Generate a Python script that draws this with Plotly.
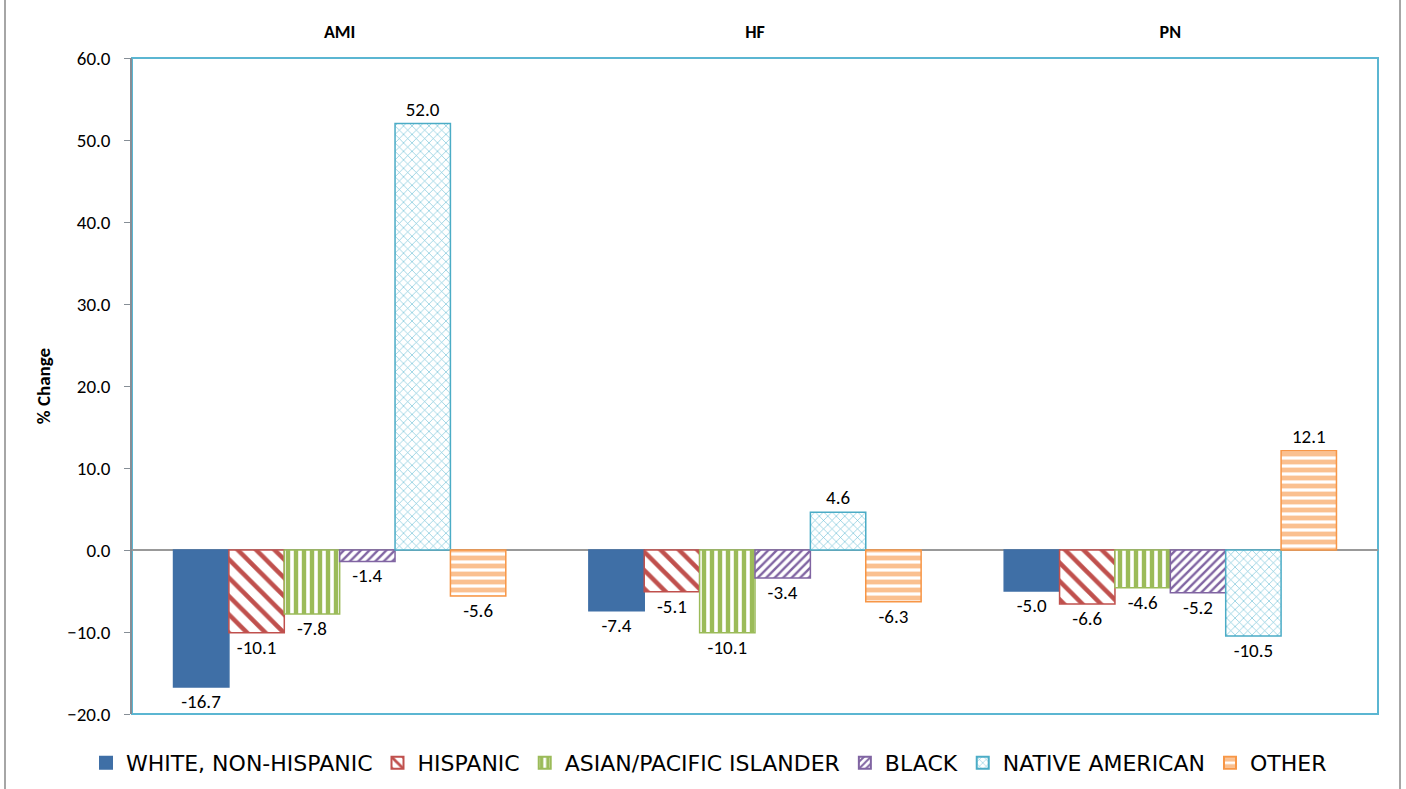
import plotly.graph_objects as go

categories = ["AMI", "HF", "PN"]
series_names = ["WHITE, NON-HISPANIC", "HISPANIC", "ASIAN/PACIFIC ISLANDER",
                "BLACK", "NATIVE AMERICAN", "OTHER"]
white = [-16.7, -7.4, -5.0]
hispanic = [-10.1, -5.1, -6.6]
asian = [-7.8, -10.1, -4.6]
black = [-1.4, -3.4, -5.2]
native = [52.0, 4.6, -10.5]
other = [-5.6, -6.3, 12.1]
y_ticks = [-20, -10, 0, 10, 20, 30, 40, 50, 60]

FONT = "Carlito, Lato, 'Liberation Sans', sans-serif"
LEG_FONT = "'DejaVu Sans', sans-serif"

styles = [
    dict(color="#3F6FA6", line="#3F6FA6", pattern=None),
    dict(color="white", line="#C0504D",
         pattern=dict(shape="\\", fgcolor="#C0504D", bgcolor="white", size=13, solidity=0.35, fillmode="replace")),
    dict(color="white", line="#9BBB59",
         pattern=dict(shape="|", fgcolor="#9BBB59", bgcolor="white", size=8, solidity=0.55, fillmode="replace")),
    dict(color="white", line="#8064A2",
         pattern=dict(shape="/", fgcolor="#8064A2", bgcolor="white", size=6, solidity=0.4, fillmode="replace")),
    dict(color="white", line="#4BACC6",
         pattern=dict(shape="x", fgcolor="#6EC0D6", bgcolor="white", size=6, solidity=0.2, fillmode="replace")),
    dict(color="white", line="#F79646",
         pattern=dict(shape="-", fgcolor="#FAC090", bgcolor="white", size=8, solidity=0.6, fillmode="replace")),
]
values = [white, hispanic, asian, black, native, other]

fig = go.Figure()
for name, vals, st in zip(series_names, values, styles):
    marker = dict(color=st["color"], line=dict(color=st["line"], width=1.5))
    if st["pattern"] is not None:
        marker["pattern"] = st["pattern"]
    fig.add_trace(go.Bar(
        x=categories, y=vals, name=name, marker=marker,
        texttemplate="%{y:.1f}", textposition="outside",
        textfont=dict(family=FONT, size=19, color="black"),
        cliponaxis=False,
    ))

W, H = 1406, 789
L, R, T, B = 132, 28, 58, 75
pw, ph = W - L - R, H - T - B

fig.update_layout(
    width=W, height=H,
    margin=dict(l=L, r=R, t=T, b=B, autoexpand=False),
    paper_bgcolor="white", plot_bgcolor="white",
    barmode="group", bargap=0.2, bargroupgap=0,
    font=dict(family=FONT, size=19, color="black"),
    showlegend=True,
    legend=dict(orientation="h", x=(709 - L) / pw, xanchor="center",
                yref="container", y=1 - 763 / H, yanchor="middle",
                font=dict(family=LEG_FONT, size=22, color="black"),
                itemsizing="constant"),
)
fig.update_xaxes(
    side="top", showline=False, showgrid=False, zeroline=False,
    ticks="outside", ticklen=12, tickcolor="rgba(0,0,0,0)",
    tickfont=dict(family=FONT, size=18, color="black", weight="bold"),
)
fig.update_yaxes(
    range=[-20, 60], tickvals=y_ticks, tickformat=".1f",
    showgrid=False, showline=True, linecolor="#868E96", linewidth=1.5,
    ticks="outside", ticklen=6, tickcolor="#868E96", ticklabelstandoff=10,
    zeroline=True, zerolinecolor="#999999", zerolinewidth=1.5,
    tickfont=dict(family=FONT, size=19, color="black"),
    title=dict(text="% Change", font=dict(family=FONT, size=19, color="black", weight="bold"), standoff=12),
)

# plot-area frame (light blue) and outer chart border (grey)
fig.add_shape(type="rect", xref="paper", yref="paper", x0=0, x1=1, y0=0, y1=1,
              line=dict(color="#5BB6D2", width=2), layer="below")
fig.add_shape(type="line", xref="paper", yref="paper",
              x0=(5 - L) / pw, x1=(5 - L) / pw, y0=-0.3, y1=1.3,
              line=dict(color="#A6A6A6", width=2))
fig.add_shape(type="line", xref="paper", yref="paper",
              x0=(1400 - L) / pw, x1=(1400 - L) / pw, y0=-0.3, y1=1.3,
              line=dict(color="#A6A6A6", width=2))

fig.write_html("out.html", config={"displayModeBar": False},
               post_script="document.body.style.margin='0';document.body.style.overflow='hidden';")
